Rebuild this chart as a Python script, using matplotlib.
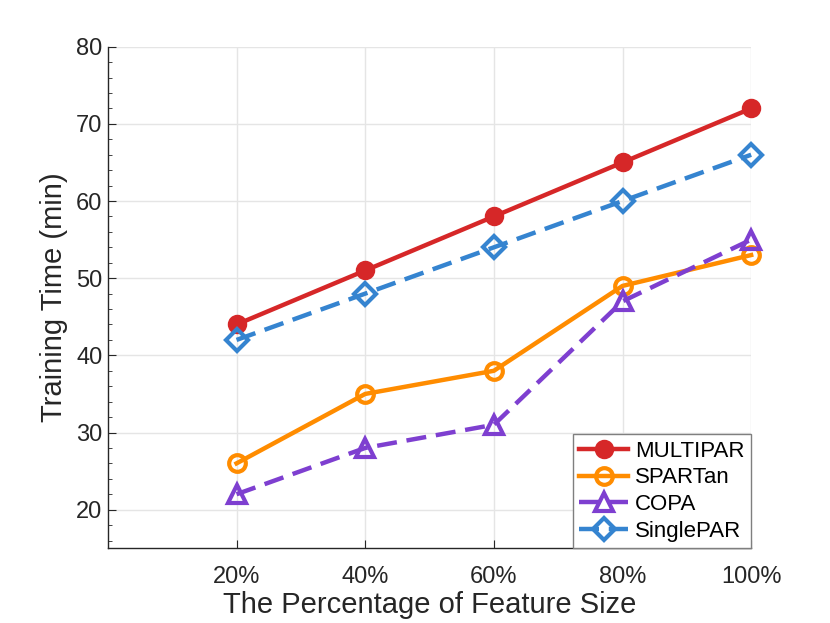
#!/usr/bin/env python3
"""Training time vs. feature size for four PARAFAC2 variants."""
import matplotlib

matplotlib.use("Agg")
import matplotlib.pyplot as plt

plt.rcParams["font.family"] = ["Liberation Sans", "DejaVu Sans"]

feature_labels = ["20%", "40%", "60%", "80%", "100%"]
multipar = [44, 51, 58, 65, 72]
spartan = [26, 35, 38, 49, 53]
copa = [22, 28, 31, 47, 55]
singlepar = [42, 48, 54, 60, 66]

series = [
    ("MULTIPAR", multipar, "#D62728", "o", "-", "#D62728", 11),
    ("SPARTan", spartan, "#FF8C00", "o", "-", "none", 12),
    ("COPA", copa, "#7E3FD0", "^", "--", "none", 13),
    ("SinglePAR", singlepar, "#3584D0", "D", "--", "none", 11),
]

fig = plt.figure(figsize=(8.3, 6.23), dpi=100)
ax = fig.add_axes([0.130, 0.120, 0.775, 0.805])

x = list(range(1, len(feature_labels) + 1))
for label, vals, color, marker, ls, face, ms in series:
    ax.plot(x, vals, linestyle=ls, color=color, linewidth=3.2, marker=marker,
            markersize=ms, markerfacecolor=face, markeredgecolor=color,
            markeredgewidth=3.0, dashes=(4.5, 2.2) if ls == "--" else (None, None),
            label=label, clip_on=False, zorder=3)

ax.set_xlim(0, 5)
ax.set_ylim(15, 80)
ax.set_xticks(x)
ax.set_xticklabels(feature_labels)
ax.set_yticks(range(20, 81, 10))
ax.set_yticks(range(16, 81, 2), minor=True)
ax.tick_params(axis="both", which="both", direction="in", labelsize=17,
               colors="#262626")
ax.tick_params(axis="y", which="major", length=6, pad=4)
ax.tick_params(axis="y", which="minor", length=3)
ax.tick_params(axis="x", which="major", length=6, pad=13)

ax.grid(True, which="major", color="#E5E5E5", linewidth=1.0)
ax.set_axisbelow(True)
for side in ("top", "right"):
    ax.spines[side].set_visible(False)
for side in ("left", "bottom"):
    ax.spines[side].set_color("#262626")
    ax.spines[side].set_linewidth(1.0)

ax.set_xlabel("The Percentage of Feature Size", fontsize=21, color="#262626", labelpad=2)
ax.set_ylabel("Training Time (min)", fontsize=21, color="#262626", labelpad=6)

leg = ax.legend(loc="lower right", fontsize=16, frameon=True, fancybox=False,
                borderaxespad=0, handlelength=2.2, handletextpad=0.3,
                labelspacing=0.25, borderpad=0.3)
leg.get_frame().set_edgecolor("#7F7F7F")
leg.get_frame().set_linewidth(1.0)
leg.get_frame().set_alpha(1.0)

fig.savefig("out.png", dpi=100)
